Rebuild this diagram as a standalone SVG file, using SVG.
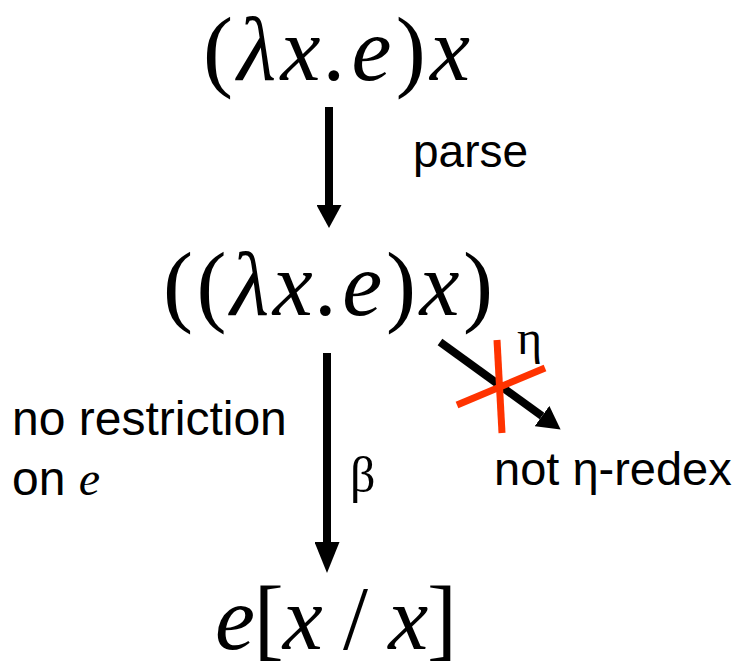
<svg xmlns="http://www.w3.org/2000/svg" width="740" height="667" viewBox="0 0 740 667">
<style>
.f{font-family:"Liberation Serif","Times New Roman",serif;font-size:90px;fill:#000}
.i{font-style:italic}
.s{font-family:"Liberation Sans",Arial,sans-serif;fill:#000}
.g{font-family:"Liberation Serif","Times New Roman",serif;fill:#000}
.c{stroke:#000;stroke-width:8;fill:none}
.x{stroke:#ff3300;stroke-width:7}
</style>
<defs>
<marker id="ah" viewBox="0 0 23 25" refX="0" refY="12.5" markerWidth="23" markerHeight="25" markerUnits="userSpaceOnUse" orient="auto">
<path d="M0,0 L23,12.5 L0,25 z" fill="#000"/>
</marker>
<marker id="ah2" viewBox="0 0 31 25" refX="0" refY="12.5" markerWidth="31" markerHeight="25" markerUnits="userSpaceOnUse" orient="auto">
<path d="M0,0 L31,12.5 L0,25 z" fill="#000"/>
</marker>
</defs>
<g id="n1"><text class="f" x="203" y="80" textLength="267" lengthAdjust="spacing">(<tspan class="i">λx.e</tspan>)<tspan class="i">x</tspan></text></g>
<g id="n2"><text class="f" x="163" y="315" textLength="330" lengthAdjust="spacing">((<tspan class="i">λx.e</tspan>)<tspan class="i">x</tspan>)</text></g>
<g id="n3"><text class="f" x="215" y="649" textLength="242" lengthAdjust="spacing"><tspan class="i">e</tspan>[<tspan class="i">x</tspan> / <tspan class="i">x</tspan>]</text></g>
<g id="connectors">
<line class="c" x1="329" y1="107" x2="329" y2="205" marker-end="url(#ah)"/>
<line class="c" x1="327" y1="353" x2="327" y2="542" marker-end="url(#ah2)"/>
<line class="c" x1="440" y1="342" x2="542" y2="416" marker-end="url(#ah)"/>
<line class="x" x1="457" y1="405" x2="545" y2="368"/>
<line class="x" x1="497" y1="340" x2="502" y2="433"/>
</g>
<g id="labels">
<text class="s" x="413" y="167" font-size="46">parse</text>
<text class="g" x="517" y="354" font-size="48">η</text>
<text class="s" x="12" y="435" font-size="48">no restriction</text>
<text class="s" x="12" y="495" font-size="48">on <tspan class="g i">e</tspan></text>
<text class="g" x="350" y="492" font-size="50">β</text>
<text class="s" x="494" y="485" font-size="47">not η-redex</text>
</g>
</svg>
